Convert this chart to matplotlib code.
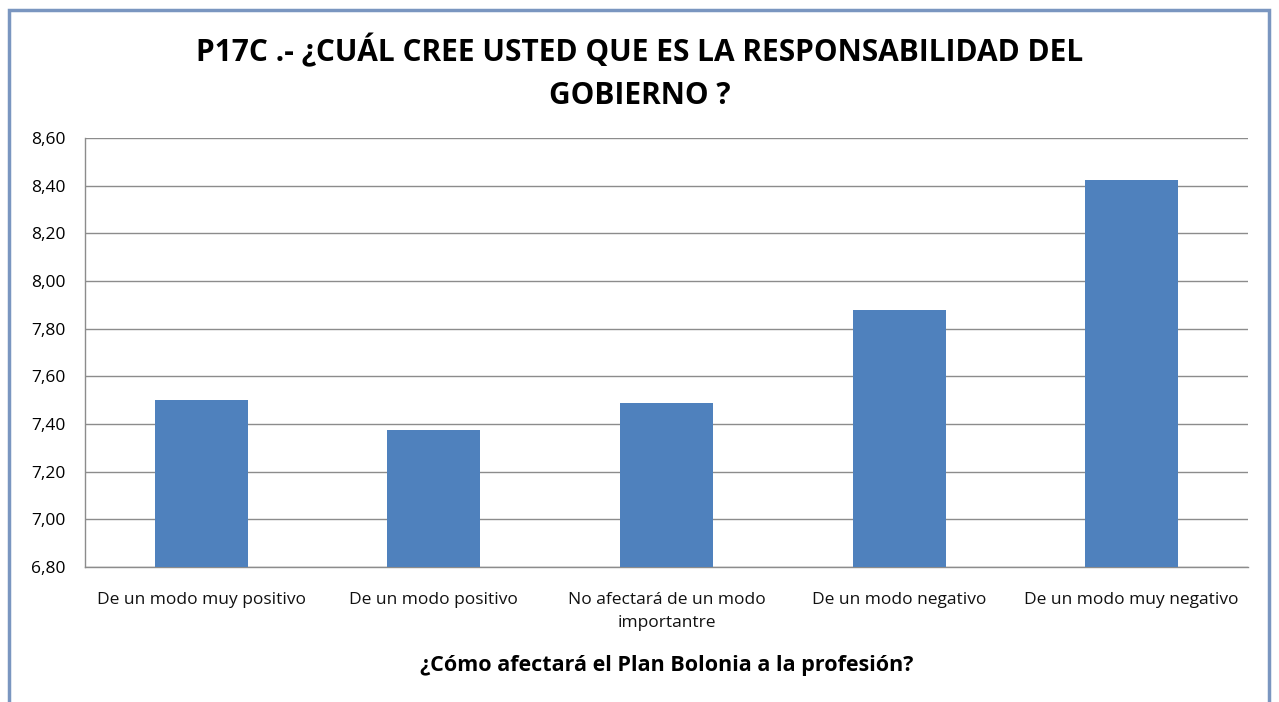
import matplotlib
matplotlib.use('agg')
import matplotlib.pyplot as plt
from matplotlib.patches import Rectangle

categorias = ['De un modo muy positivo', 'De un modo positivo',
              'No afectará de un modo\nimportantre', 'De un modo negativo',
              'De un modo muy negativo']
valores = [7.50, 7.375, 7.49, 7.88, 8.425]
ticks_y = [6.80, 7.00, 7.20, 7.40, 7.60, 7.80, 8.00, 8.20, 8.40, 8.60]

plt.rcParams['font.family'] = ['Open Sans', 'DejaVu Sans']

fig = plt.figure(figsize=(12.79, 7.02), dpi=100)
ax = fig.add_axes([0.0665, 0.1923, 0.9092, 0.6111])

x = list(range(len(categorias)))
ax.bar(x, valores, width=0.4, color='#4F81BD', zorder=3)
ax.set_xlim(-0.5, len(categorias) - 0.5)
ax.set_ylim(ticks_y[0], ticks_y[-1])
ax.set_yticks(ticks_y)
ax.set_yticklabels([('%.2f' % t).replace('.', ',') for t in ticks_y], fontsize=12.5)
ax.set_xticks(x)
ax.set_xticklabels(categorias, fontsize=12.5, color='#111111', linespacing=1.6)
ax.tick_params(axis='x', length=0, pad=18)
ax.tick_params(axis='y', length=0, pad=14)
ax.grid(axis='y', color='#8c8c8c', linewidth=1, zorder=0)
for s in ['top', 'right']:
    ax.spines[s].set_visible(False)
for s in ['left', 'bottom']:
    ax.spines[s].set_color('#8c8c8c')
    ax.spines[s].set_linewidth(1)

ax.set_xlabel('¿Cómo afectará el Plan Bolonia a la profesión?',
              fontsize=15.5, fontweight='bold', labelpad=17)

fig.text(0.5, 0.896, 'P17C .- ¿CUÁL CREE USTED QUE ES LA RESPONSABILIDAD DEL\nGOBIERNO ?',
         ha='center', va='center', fontsize=21.5, fontweight='bold',
         linespacing=1.55)

# marco exterior
fig.patches.append(Rectangle((9 / 1279, -0.05), 1260 / 1279, 1.05 - 10 / 702,
                             transform=fig.transFigure, fill=False,
                             edgecolor='#7a96c0', linewidth=2.5))

fig.savefig('out.png', dpi=100)
